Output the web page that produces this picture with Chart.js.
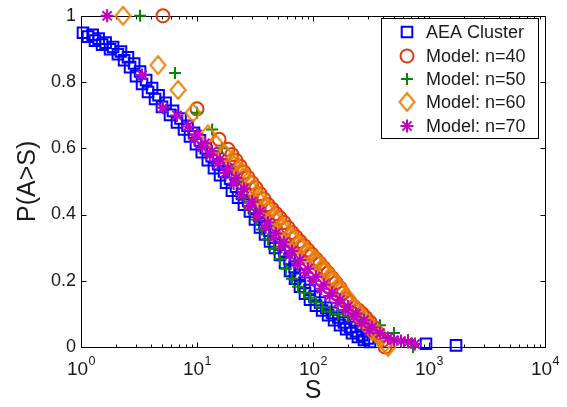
<!DOCTYPE html>
<html>
<head>
<meta charset="utf-8">
<script src="https://cdn.jsdelivr.net/npm/chart.js@4.4.1/dist/chart.umd.min.js"></script>
<style>
  html, body { margin: 0; padding: 0; background: #fff; }
  #wrap { width: 567px; height: 407px; }
</style>
</head>
<body>
<div id="wrap"><canvas id="c" width="567" height="407"></canvas></div>
<script>
// Complementary cumulative distributions P(A>S) versus S
const aeaS = [1.04,1.15,1.32,1.52,1.78,2.08,2.35,2.65,2.98,3.36,3.78,4.35,4.99,5.85,6.72,7.73,8.70,9.80,11.0,12.4,14.0,15.8,17.8,20.0,22.6,25.4,28.6,31.6,34.9,38.6,42.6,47.0,51.9,57.4,63.4,70.0,77.2,85.3,94.2,106,120,135,152,171,193,217,244,275,310,942,1710,
  1.26,1.42,1.63,1.89,2.21,2.54,2.87,3.23,3.64,4.10,4.66,5.36,6.21,7.21,8.29,9.43,10.6,11.9,13.4,15.2,17.1,19.3,21.7,24.4,27.6,31.0,34.6,38.2,42.2,46.6,51.5,56.8,62.8,69.4,76.6,84.5,93.3,103,115,130,146,165,185,209,235,265,298];
const aeaP = [0.949,0.937,0.925,0.913,0.899,0.884,0.866,0.845,0.818,0.794,0.770,0.749,0.725,0.701,0.678,0.657,0.636,0.612,0.588,0.564,0.540,0.519,0.496,0.472,0.451,0.430,0.409,0.385,0.361,0.340,0.319,0.299,0.278,0.254,0.230,0.206,0.182,0.161,0.143,0.125,0.110,0.096,0.081,0.066,0.054,0.042,0.030,0.021,0.015,0.010,0.005,
  0.943,0.931,0.919,0.906,0.892,0.875,0.856,0.832,0.806,0.782,0.760,0.737,0.713,0.690,0.668,0.647,0.624,0.600,0.576,0.552,0.530,0.508,0.484,0.462,0.441,0.420,0.397,0.373,0.351,0.330,0.309,0.289,0.266,0.242,0.218,0.194,0.172,0.152,0.134,0.118,0.103,0.089,0.074,0.060,0.048,0.036,0.026];

const n40S = [5.09,10.0,15.5,18.5,21.7,25.4,29.8,34.9,40.9,48.0,56.2,65.9,77.2,90.5,106,124,146,171,193,226,265,310,363,401,418,
  20.0,23.5,27.5,32.3,37.8,44.3,51.9,60.9,71.3,83.6,97.9,115,135,158,182,209,245,287,336];
const n40P = [1.0,0.719,0.627,0.597,0.564,0.528,0.496,0.463,0.430,0.403,0.376,0.346,0.319,0.293,0.266,0.239,0.209,0.179,0.146,0.122,0.101,0.075,0.042,0.021,0.0,
  0.581,0.546,0.512,0.480,0.447,0.417,0.390,0.361,0.333,0.306,0.280,0.253,0.224,0.194,0.163,0.134,0.112,0.088,0.059];

const n50S = [3.23,6.46,10.0,13.5,16.4,20.0,22.6,25.4,28.6,32.3,36.3,40.9,46.1,51.9,58.5,65.9,74.3,83.6,94.2,106,120,140,164,200,244,298,378,499,659,728];
const n50P = [1.0,0.827,0.707,0.657,0.600,0.534,0.504,0.451,0.415,0.385,0.355,0.325,0.296,0.266,0.236,0.206,0.182,0.164,0.149,0.134,0.119,0.107,0.099,0.093,0.087,0.084,0.066,0.042,0.021,0.0];

const n60S = [2.30,4.61,6.86,9.24,12.4,14.6,17.4,20.8,24.9,29.8,34.9,40.9,48.0,56.2,65.9,77.2,90.5,106,124,146,171,200,235,275,323,378,418,443,
  20.2,24.1,28.9,34.2,40.0,47.0,55.1,64.5,75.6,88.6,104,121,143,167,196,230,269,316,370];
const n60P = [1.0,0.851,0.776,0.707,0.642,0.612,0.582,0.549,0.513,0.475,0.439,0.409,0.379,0.349,0.325,0.301,0.275,0.254,0.227,0.197,0.167,0.134,0.104,0.075,0.048,0.027,0.012,0.0,
  0.566,0.531,0.494,0.457,0.424,0.394,0.364,0.337,0.313,0.288,0.265,0.241,0.212,0.182,0.151,0.119,0.090,0.062,0.038];

const n70S = [1.68,3.36,5.09,6.72,8.36,10.0,11.7,13.5,15.8,18.5,21.7,25.4,29.8,34.9,40.9,48.0,56.2,65.9,77.2,90.5,106,124,146,171,200,235,275,323,378,443,499,574,659,757,
  9.52,11.1,12.9,15.0,17.6,20.7,24.2,28.4,33.2,39.0,45.7,53.6,62.8,73.6,86.2,101,118,139,163,191,224,262,307];
const n70P = [1.0,0.821,0.722,0.699,0.666,0.642,0.615,0.591,0.567,0.540,0.510,0.478,0.439,0.409,0.376,0.343,0.316,0.290,0.263,0.236,0.212,0.188,0.164,0.143,0.122,0.101,0.081,0.060,0.042,0.027,0.021,0.018,0.015,0.009,
  0.629,0.603,0.579,0.554,0.525,0.494,0.459,0.424,0.393,0.360,0.330,0.303,0.277,0.250,0.224,0.200,0.176,0.154,0.133,0.112,0.091,0.071,0.051];

const seriesNames = ['AEA Cluster', 'Model: n=40', 'Model: n=50', 'Model: n=60', 'Model: n=70'];
const yTickValues = [0, 0.2, 0.4, 0.6, 0.8, 1];
const xDecadeExponents = [0, 1, 2, 3, 4];

const FONT = '"Liberation Sans", Arial, Helvetica, sans-serif';
const TEXT = '#1a1a1a';
const LW = 2;

function pts(xs, ys) { return xs.map((x, i) => ({ x: x, y: ys[i] })); }

// MATLAB-style diamond: a little taller than wide
function diamondImage(color) {
  const w = 15, h = 18, pad = 2;
  const c = document.createElement('canvas');
  c.width = w + pad * 2; c.height = h + pad * 2;
  const g = c.getContext('2d');
  g.strokeStyle = color; g.lineWidth = LW; g.lineJoin = 'miter';
  g.beginPath();
  g.moveTo(pad + w / 2, pad);
  g.lineTo(pad + w, pad + h / 2);
  g.lineTo(pad + w / 2, pad + h);
  g.lineTo(pad, pad + h / 2);
  g.closePath();
  g.stroke();
  return c;
}

const COLORS = ['#0000ff', '#e03a0c', '#008a00', '#e6820a', '#c000c0'];

function ds(label, xs, ys, color, style, radius, order) {
  return {
    label: label,
    data: pts(xs, ys),
    showLine: false,
    pointStyle: style,
    pointRadius: radius,
    pointBorderColor: color,
    pointBackgroundColor: 'rgba(0,0,0,0)',
    pointBorderWidth: LW,
    borderColor: color,
    backgroundColor: 'rgba(0,0,0,0)',
    clip: false,
    order: order
  };
}

const datasets = [
  ds(seriesNames[0], aeaS, aeaP, COLORS[0], 'rect', 7.5, 5),
  ds(seriesNames[1], n40S, n40P, COLORS[1], 'circle', 6.5, 4),
  ds(seriesNames[2], n50S, n50P, COLORS[2], 'cross', 6, 3),
  ds(seriesNames[3], n60S, n60P, COLORS[3], diamondImage(COLORS[3]), 8, 2),
  ds(seriesNames[4], n70S, n70P, COLORS[4], 'star', 6.5, 1)
];

// Box, inward ticks on all four sides, decade labels
const framePlugin = {
  id: 'frame',
  beforeDatasetsDraw(chart) {
    const ctx = chart.ctx, a = chart.chartArea;
    const xs = chart.scales.x, ys = chart.scales.y;
    const L = Math.round(a.left) + 0.5, R = Math.round(a.right) + 0.5;
    const T = Math.round(a.top) + 0.5, B = Math.round(a.bottom) + 0.5;
    ctx.save();
    ctx.strokeStyle = '#000';
    ctx.lineWidth = 1;
    ctx.strokeRect(L, T, R - L, B - T);
    ctx.beginPath();
    xDecadeExponents.forEach(k => {
      const base = Math.pow(10, k);
      const px = Math.round(xs.getPixelForValue(base)) + 0.5;
      ctx.moveTo(px, B); ctx.lineTo(px, B - 5);
      ctx.moveTo(px, T); ctx.lineTo(px, T + 5);
      if (k < xDecadeExponents[xDecadeExponents.length - 1]) {
        for (let m = 2; m <= 9; m++) {
          const p = Math.round(xs.getPixelForValue(m * base)) + 0.5;
          ctx.moveTo(p, B); ctx.lineTo(p, B - 3);
          ctx.moveTo(p, T); ctx.lineTo(p, T + 3);
        }
      }
    });
    yTickValues.forEach(v => {
      const py = Math.round(ys.getPixelForValue(v)) + 0.5;
      ctx.moveTo(L, py); ctx.lineTo(L + 5, py);
      ctx.moveTo(R, py); ctx.lineTo(R - 5, py);
    });
    ctx.stroke();

    ctx.fillStyle = TEXT;
    ctx.textBaseline = 'alphabetic';
    ctx.textAlign = 'left';
    const baseFont = '19px ' + FONT, expFont = '12.5px ' + FONT;
    xDecadeExponents.forEach(k => {
      const px = xs.getPixelForValue(Math.pow(10, k));
      ctx.font = baseFont;
      const wb = ctx.measureText('10').width;
      ctx.font = expFont;
      const we = ctx.measureText(String(k)).width;
      const x0 = px - (wb + we) / 2;
      ctx.font = baseFont;
      ctx.fillText('10', x0, 375);
      ctx.font = expFont;
      ctx.fillText(String(k), x0 + wb + 0.5, 365);
    });
    ctx.restore();
  }
};

// Boxed legend in the upper right corner of the axes
const legendPlugin = {
  id: 'boxLegend',
  afterDatasetsDraw(chart) {
    const ctx = chart.ctx;
    const bx = 381.5, by = 18.5, bw = 157, bh = 120;
    ctx.save();
    ctx.fillStyle = '#fff';
    ctx.fillRect(bx, by, bw, bh);
    ctx.strokeStyle = '#000';
    ctx.lineWidth = 1;
    ctx.strokeRect(bx, by, bw, bh);
    const rows = [32, 56, 79, 102, 126];
    chart.data.datasets.forEach((d, i) => {
      ctx.strokeStyle = d.pointBorderColor;
      ctx.fillStyle = 'rgba(0,0,0,0)';
      ctx.lineWidth = LW;
      Chart.helpers.drawPoint(ctx, {
        pointStyle: d.pointStyle,
        radius: d.pointRadius,
        borderWidth: LW,
        rotation: 0
      }, 407, rows[i]);
      ctx.fillStyle = TEXT;
      ctx.font = '18px ' + FONT;
      ctx.textAlign = 'left';
      ctx.textBaseline = 'middle';
      ctx.fillText(d.label, 426, rows[i] + 1);
    });
    ctx.restore();
  }
};

new Chart(document.getElementById('c'), {
  type: 'scatter',
  data: { datasets: datasets },
  plugins: [framePlugin, legendPlugin],
  options: {
    responsive: false,
    animation: false,
    devicePixelRatio: 1,
    events: [],
    layout: { padding: { top: 12, right: 22, left: 0, bottom: 0 } },
    plugins: { legend: { display: false }, tooltip: { enabled: false } },
    scales: {
      x: {
        type: 'logarithmic',
        min: 1,
        max: 10000,
        grid: { display: false },
        border: { display: false },
        ticks: { display: false },
        title: {
          display: true,
          text: 'S',
          color: TEXT,
          font: { family: FONT, size: 25 },
          padding: { top: 0, bottom: 1 }
        },
        afterFit(scale) { scale.height = 60; }
      },
      y: {
        type: 'linear',
        min: 0,
        max: 1,
        grid: { display: false, drawTicks: false },
        border: { display: false },
        afterBuildTicks(scale) { scale.ticks = yTickValues.map(v => ({ value: v })); },
        ticks: {
          color: TEXT,
          padding: 5,
          font: { family: FONT, size: 18 },
          callback: v => (v === 0 ? '0' : v === 1 ? '1' : v.toFixed(1))
        },
        title: {
          display: true,
          text: 'P(A>S)',
          color: TEXT,
          font: { family: FONT, size: 25 },
          padding: { top: 13, bottom: 0 }
        },
        afterFit(scale) { scale.width = 81; }
      }
    }
  }
});
</script>
</body>
</html>
